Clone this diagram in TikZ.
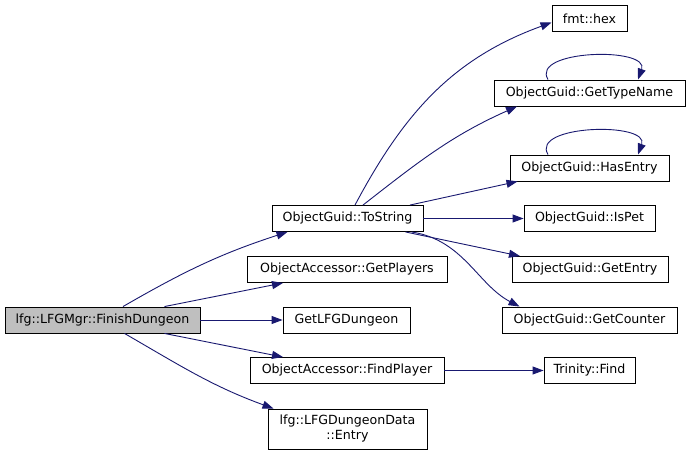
\documentclass[tikz,border=0pt]{standalone}
\usepackage{fontspec}
\setmainfont{DejaVu Sans}
\usetikzlibrary{arrows.meta}
\definecolor{edgec}{HTML}{191970}
\definecolor{curfill}{HTML}{BFBFBF}
\begin{document}
\begin{tikzpicture}[x=1pt,y=-1pt,
  box/.style={draw=black,line width=0.9pt,fill=white,rectangle,inner sep=0pt,minimum height=26pt,font=\fontsize{12.6}{15}\selectfont,align=center},
  cur/.style={box,fill=curfill},
  edge/.style={draw=edgec,line width=0.9pt,-{Triangle[length=11pt,width=8pt]}}]
\path[use as bounding box] (0,0) rectangle (691,455);
% nodes
\node[cur,minimum width=195pt] (fin) at (102.5,320) {lfg::LFGMgr::FinishDungeon};
\node[box,minimum width=151pt] (tostr) at (347.5,218.5) {ObjectGuid::ToString};
\node[box,minimum width=200pt] (getpl) at (347,269.5) {ObjectAccessor::GetPlayers};
\node[box,minimum width=127pt] (getlfg) at (346.5,320) {GetLFGDungeon};
\node[box,minimum width=194pt] (findp) at (347,370.5) {ObjectAccessor::FindPlayer};
\node[box,minimum width=159pt,minimum height=40pt] (entry) at (347.5,429) {lfg::LFGDungeonData\\::Entry};
\node[box,minimum width=75pt] (hex) at (589.5,18.5) {fmt::hex};
\node[box,minimum width=191pt] (gtn) at (589.5,93) {ObjectGuid::GetTypeName};
\node[box,minimum width=159pt] (has) at (589.5,168) {ObjectGuid::HasEntry};
\node[box,minimum width=131pt] (ispet) at (589.5,218.5) {ObjectGuid::IsPet};
\node[box,minimum width=156pt] (gent) at (590,269.5) {ObjectGuid::GetEntry};
\node[box,minimum width=175pt] (gcnt) at (589.5,320) {ObjectGuid::GetCounter};
\node[box,minimum width=91pt] (tfind) at (589.5,370.5) {Trinity::Find};
% edges from FinishDungeon
\draw[edge] ([xshift=20.5pt]fin.north) to[out=30,in=198] ([xshift=-60pt]tostr.south);
\draw[edge] ([xshift=62pt]fin.north) -- ([xshift=-64pt]getpl.south);
\draw[edge] (fin.east) -- (getlfg.west);
\draw[edge] ([xshift=62pt]fin.south) -- ([xshift=-64pt]findp.north);
\draw[edge] ([xshift=22pt]fin.south) to[out=-30,in=160] ([xshift=-74pt]entry.north);
\draw[edge] (findp.east) -- (tfind.west);
% edges from ToString
\draw[edge] ([xshift=7.5pt]tostr.north) to[out=62,in=200] ([yshift=-4pt]hex.west);
\draw[edge] ([xshift=15.5pt]tostr.north) to[out=38,in=204] ([xshift=-72.5pt]gtn.south);
\draw[edge] ([xshift=62.5pt]tostr.north) -- ([xshift=-72pt]has.south);
\draw[edge] (tostr.east) -- (ispet.west);
\draw[edge] ([xshift=58pt]tostr.south) -- ([xshift=-70pt]gent.north);
\draw[edge] ([xshift=64pt]tostr.south) .. controls +(52,8) and +(-42,-22) .. ([xshift=-70pt]gcnt.north);
% self loops
\draw[edge] ([xshift=-41.5pt]gtn.north) .. controls +(-18,-30) and +(12,-33) .. ([xshift=48.5pt]gtn.north);
\draw[edge] ([xshift=-41.5pt]has.north) .. controls +(-18,-30) and +(12,-33) .. ([xshift=48.5pt]has.north);
\end{tikzpicture}
\end{document}
